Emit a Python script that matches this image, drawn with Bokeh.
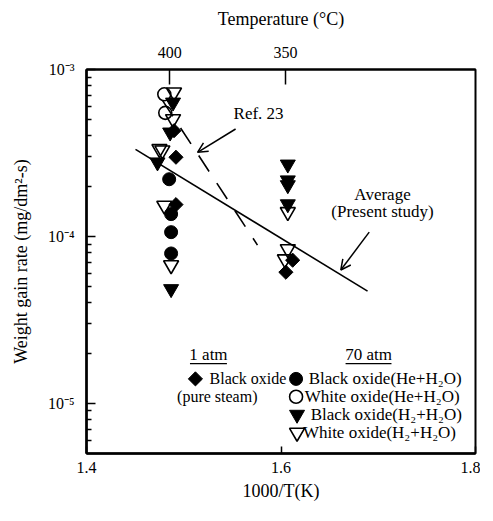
import numpy as np
from bokeh.plotting import figure
from bokeh.models import (Range1d, LinearAxis, FixedTicker, CustomJSTickFormatter,
                          Arrow, OpenHead)
from bokeh.core.properties import value
from bokeh.embed import file_html
from bokeh.resources import INLINE

# ---------------- data ----------------
x_ticks = [1.4, 1.6, 1.8]
y_ticks = [1e-5, 1e-4, 1e-3]
temp_ticks_c = [400, 350]

# Black oxide (He+H2O) - filled circles, 70 atm
black_he_x = [1.485, 1.487, 1.487, 1.487]
black_he_y = [2.20e-4, 1.36e-4, 1.06e-4, 7.9e-5]
# White oxide (He+H2O) - open circles
white_he_x = [1.480, 1.481]
white_he_y = [7.1e-4, 5.5e-4]
# Black oxide (H2+H2O) - filled inverted triangles
black_h2_x = [1.489, 1.486, 1.473, 1.487, 1.607, 1.607, 1.607, 1.607]
black_h2_y = [6.35e-4, 4.2e-4, 2.78e-4, 4.84e-5, 2.7e-4, 2.17e-4, 2.03e-4, 1.56e-4]
# White oxide (H2+H2O) - open inverted triangles
white_h2_x = [1.490, 1.489, 1.475, 1.478, 1.480, 1.487, 1.607, 1.607, 1.604]
white_h2_y = [7.3e-4, 5.05e-4, 3.34e-4, 3.28e-4, 1.53e-4, 6.73e-5, 1.40e-4, 8.4e-5, 7.3e-5]
# Black oxide (pure steam) 1 atm - filled diamonds
steam_x = [1.490, 1.492, 1.492, 1.612, 1.605]
steam_y = [4.3e-4, 2.98e-4, 1.55e-4, 7.2e-5, 6.1e-5]

# Average (present study) line and Ref. 23 line
avg_x = [1.4504, 1.6890]
avg_y = [3.32e-4, 4.70e-5]
ref23_x = [1.4781, 1.5758]
ref23_y = [6.53e-4, 8.87e-5]

legend_labels = ["Black oxide(He+H\u2082O)", "White oxide(He+H\u2082O)",
                 "Black oxide(H\u2082+H\u2082O)", "White oxide(H\u2082+H\u2082O)"]

FONT = value("Liberation Serif")
TXT = "17px"

p = figure(width=480, height=513, x_range=Range1d(1.4, 1.8), y_range=Range1d(5e-6, 1e-3),
           y_axis_type="log", output_backend="svg", toolbar_location=None,
           min_border_left=86, min_border_right=5, min_border_top=69, min_border_bottom=60)
p.xgrid.visible = False
p.ygrid.visible = False
p.outline_line_color = "black"
p.outline_line_width = 2
p.outline_line_alpha = 1.0
p.background_fill_color = "white"
p.border_fill_color = "white"

# bottom axis
xa = p.xaxis[0]
xa.ticker = FixedTicker(ticks=x_ticks)
xa.axis_label = "1000/T(K)"
xa.major_tick_in = 7
xa.major_tick_out = 0
xa.minor_tick_in = 0
xa.minor_tick_out = 0
xa.major_label_standoff = 8
xa.axis_label_standoff = 5
xa.axis_line_width = 2.5

# left axis
ya = p.yaxis[0]
minor = [k * 10.0 ** e for e in (-6, -5, -4) for k in range(2, 10)]
ya.ticker = FixedTicker(ticks=y_ticks, minor_ticks=minor)
ya.formatter = CustomJSTickFormatter(code="""
const e = Math.round(Math.log10(tick));
const sup = {'-':'\u207b','0':'\u2070','1':'\u00b9','2':'\u00b2','3':'\u00b3','4':'\u2074','5':'\u2075','6':'\u2076','7':'\u2077','8':'\u2078','9':'\u2079'};
return '10' + String(e).split('').map(c => sup[c]).join('');
""")
ya.axis_label = "Weight gain rate (mg/dm\u00b2-s)"
ya.major_tick_in = 9
ya.major_tick_out = 0
ya.minor_tick_in = 5
ya.minor_tick_out = 0
ya.major_label_standoff = 12
ya.axis_label_standoff = 14
ya.axis_line_width = 2.5

# top axis (temperature)
temp_pos = [1000.0 / (t + 273.15) for t in temp_ticks_c]
top = LinearAxis(ticker=FixedTicker(ticks=temp_pos),
                 formatter=CustomJSTickFormatter(code="return String(Math.round(1000/tick - 273.15));"),
                 axis_label="Temperature (\u00b0C)")
top.major_tick_in = 15
top.major_tick_out = 0
top.minor_tick_in = 0
top.minor_tick_out = 0
top.major_label_standoff = 12
top.axis_label_standoff = 15
top.axis_line_width = 2
p.add_layout(top, "above")

for ax in (xa, ya, top):
    ax.major_label_text_font = "Liberation Serif"
    ax.major_label_text_font_size = "16px"
    ax.major_label_text_color = "black"
    ax.axis_label_text_font = "Liberation Serif"
    ax.axis_label_text_font_size = "18px"
    ax.axis_label_text_font_style = "normal"
    ax.axis_label_text_color = "black"
    ax.axis_line_color = "black"
    ax.major_tick_line_color = "black"
    ax.minor_tick_line_color = "black"
    ax.major_tick_line_width = 1.5
    ax.minor_tick_line_width = 1.5

# lines
p.line(avg_x, avg_y, line_color="black", line_width=1.6)
p.line(ref23_x, ref23_y, line_color="black", line_width=1.6, line_dash="19 14")

# markers
p.scatter(steam_x, steam_y, marker="square", angle=np.pi / 4, size=10,
          fill_color="black", line_color="black")
p.scatter(black_he_x, black_he_y, marker="circle", size=13, fill_color="black", line_color="black")
p.scatter(black_h2_x, black_h2_y, marker="inverted_triangle", size=15,
          fill_color="black", line_color="black")
p.scatter(white_he_x, white_he_y, marker="circle", size=13, fill_color=None,
          line_color="black", line_width=1.6)
p.scatter(white_h2_x, white_h2_y, marker="inverted_triangle", size=15, fill_color=None,
          line_color="black", line_width=1.6)

# annotations
p.text(x=[1.5512], y=[5.46e-4], text=["Ref. 23"], text_font=FONT, text_font_size=TXT,
       text_align="left", text_baseline="middle", text_color="black")
p.add_layout(Arrow(end=OpenHead(size=10, line_width=1.5, line_color="black"),
                   x_start=1.5533, y_start=4.40e-4, x_end=1.5142, y_end=3.19e-4,
                   line_width=1.5, line_color="black"))
p.text(x=[1.7044, 1.7044], y=[1.79e-4, 1.40e-4], text=["Average", "(Present study)"],
       text_font=FONT, text_font_size=TXT, text_align="center", text_baseline="middle",
       text_color="black")
p.add_layout(Arrow(end=OpenHead(size=10, line_width=1.5, line_color="black"),
                   x_start=1.6907, y_start=1.06e-4, x_end=1.6615, y_end=6.29e-5,
                   line_width=1.5, line_color="black"))

# legend block
p.text(x=[1.5254, 1.690], y=[1.953e-5, 1.953e-5], text=["1 atm", "70 atm"],
       text_font=FONT, text_font_size=TXT, text_align="center", text_baseline="middle",
       text_color="black")
p.segment(x0=[1.5064, 1.6664], y0=[1.726e-5, 1.726e-5], x1=[1.5444, 1.7136], y1=[1.726e-5, 1.726e-5],
          line_color="black", line_width=1.2)

p.scatter([1.512], [1.40e-5], marker="square", angle=np.pi / 4, size=10,
          fill_color="black", line_color="black")
p.text(x=[1.5265], y=[1.40e-5], text=["Black oxide"],
       text_font=FONT, text_font_size="16px", text_align="left", text_baseline="middle",
       text_color="black")
p.text(x=[1.5758], y=[1.094e-5], text=["(pure steam)"],
       text_font=FONT, text_font_size="16px", text_align="right", text_baseline="middle",
       text_color="black")

leg_y = [1.40e-5, 1.094e-5, 8.55e-6, 6.67e-6]
leg_mx = [1.6155, 1.6155, 1.6165, 1.6165]
p.scatter([leg_mx[0]], [leg_y[0]], marker="circle", size=13, fill_color="black", line_color="black")
p.scatter([leg_mx[1]], [leg_y[1]], marker="circle", size=13, fill_color=None, line_color="black",
          line_width=1.6)
p.scatter([leg_mx[2]], [leg_y[2]], marker="inverted_triangle", size=15, fill_color="black",
          line_color="black")
p.scatter([leg_mx[3]], [leg_y[3]], marker="inverted_triangle", size=15, fill_color=None,
          line_color="black", line_width=1.6)
p.text(x=[1.6285, 1.6245, 1.6305, 1.6225], y=leg_y, text=legend_labels, text_font=FONT,
       text_font_size=TXT, text_align="left", text_baseline="middle", text_color="black")

open("out.html", "w").write(file_html(p, INLINE))
